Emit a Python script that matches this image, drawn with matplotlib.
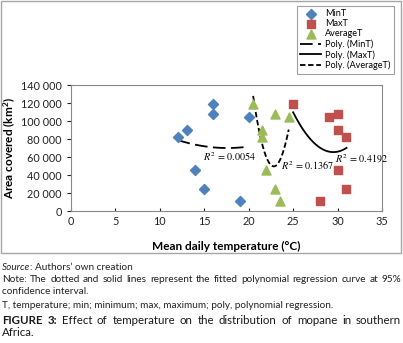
import numpy as np
import matplotlib
matplotlib.use("Agg")
import matplotlib.pyplot as plt
from matplotlib.patches import Rectangle

plt.rcParams["font.family"] = ["Lato", "DejaVu Sans"]
plt.rcParams["mathtext.fontset"] = "stix"

# data
area = [119000, 108000, 104000, 90000, 82000, 46000, 24000, 11000]
min_t = [16, 16, 20, 13, 12, 14, 15, 19]
max_t = [25, 30, 29, 30, 31, 30, 31, 28]
avg_t = [20.5, 23, 24.5, 21.5, 21.5, 22, 23, 23.5]
r2_text = ["0.0054", "0.4192", "0.1367"]
y_ticks = [0, 20000, 40000, 60000, 80000, 100000, 120000, 140000]
x_ticks = [0, 5, 10, 15, 20, 25, 30, 35]

blue, red, green = "#4F81BD", "#C0504D", "#9BBB59"
W, H = 403, 343

fig = plt.figure(figsize=(W / 100, H / 100), dpi=100)
ax = fig.add_axes([71 / W, 1 - 211 / H, 311 / W, 126 / H])

# outer frame of the chart
fig.patches.append(Rectangle((1 / W, 1 - 253 / H), 400 / W, 252 / H, transform=fig.transFigure,
                             fill=False, ec="#a6a6a6", lw=1))

ax.scatter(min_t, area, marker="D", s=26, color=blue, label="MinT", zorder=3)
ax.scatter(max_t, area, marker="s", s=40, color=red, label="MaxT", zorder=3)
ax.scatter(avg_t, area, marker="^", s=42, color=green, label="AverageT", zorder=3)

# 2nd order polynomial trendlines (Excel "Poly.")
styles = [((0, (7, 3)), "Poly. (MinT)", min_t),
          ("-", "Poly. (MaxT)", max_t),
          ((0, (3, 1.5)), "Poly. (AverageT)", avg_t)]
for ls, lab, xv in styles:
    c = np.polyfit(xv, area, 2)
    xs = np.linspace(min(xv), max(xv), 200)
    ax.plot(xs, np.polyval(c, xs), color="black", ls=ls, lw=1.3, label=lab, zorder=2)

# R² labels
r2_pos = [(14.9, 61000), (29.7, 58000), (23.6, 51000)]
for (x, y), t in zip(r2_pos, r2_text):
    ax.text(x, y, r"$R^2$ = " + t, fontsize=7.3, va="center", ha="left",
            family=["STIXGeneral", "DejaVu Sans"], zorder=4)

ax.set_xlim(0, 35)
ax.set_ylim(0, 140000)
ax.set_xticks(x_ticks)
ax.set_yticks(y_ticks)
ax.set_yticklabels(["{:,}".format(v).replace(",", " ") for v in y_ticks])
ax.tick_params(axis="both", labelsize=7.8, colors="#222222", length=3, width=0.8)
ax.tick_params(axis="x", direction="in", length=2)
for s in ax.spines.values():
    s.set_color("#888888")
    s.set_linewidth(0.8)

ax.set_xlabel("Mean daily temperature (°C)", fontsize=8.5, fontweight="bold", labelpad=10)
ax.set_ylabel("Area covered (km$^\\mathregular{2}$)", fontsize=8.5, fontweight="bold", labelpad=3)

leg = fig.legend(loc="upper left", bbox_to_anchor=(297 / W, 1 - 6 / H), fontsize=6.6,
                 frameon=True, fancybox=False, edgecolor="#888888", borderpad=0.35,
                 labelspacing=0.12, handlelength=2.3, handletextpad=0.4, scatterpoints=1,
                 borderaxespad=0)
leg.get_frame().set_linewidth(0.8)


def justified(parts, y, x0, x1, size, color="#222222"):
    # place words so the line spans x0..x1 pixels
    r = fig.canvas.get_renderer()
    texts = []
    for word, props in parts:
        t = fig.text(0, 1 - y / H, word, fontsize=size, va="center", ha="left", color=color, **props)
        texts.append(t)
    widths = [t.get_window_extent(r).width for t in texts]
    gap = (x1 - x0 - sum(widths)) / (len(texts) - 1)
    x = x0
    for t, w in zip(texts, widths):
        t.set_x(x / W)
        x += w + gap


cap = 7.2
src = fig.text(2 / W, 1 - 267 / H, "Source", fontsize=cap, style="italic", va="center", color="#222222")
sw = src.get_window_extent(fig.canvas.get_renderer()).width
fig.text((2 + sw) / W, 1 - 267 / H, ": Authors’ own creation", fontsize=cap, va="center", color="#222222")
note = "Note: The dotted and solid lines represent the fitted polynomial regression curve at 95%"
justified([(w, {}) for w in note.split()], 280, 2, 401, cap)
fig.text(2 / W, 1 - 292 / H, "confidence interval.", fontsize=cap, va="center", color="#222222")
fig.text(2 / W, 1 - 305 / H, "T, temperature; min; minimum; max, maximum; poly, polynomial regression.",
         fontsize=cap, va="center", color="#222222")
fig_line = "Effect of temperature on the distribution of mopane in southern"
parts = [("FIGURE", {"fontweight": "bold"}), ("3:", {"fontweight": "bold"})]
parts += [(w, {}) for w in fig_line.split()]
justified(parts, 320, 2, 401, 8.3, color="#1a1a1a")
fig.text(2 / W, 1 - 333 / H, "Africa.", fontsize=8.3, va="center", color="#1a1a1a")

fig.savefig("out.png", dpi=100)
